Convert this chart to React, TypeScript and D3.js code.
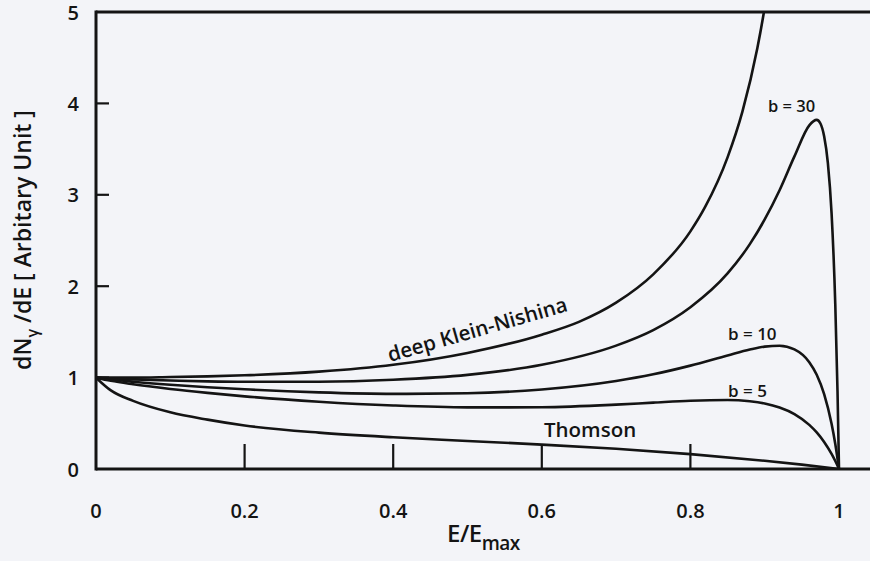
import React from "react";
import * as d3 from "d3";

// Photon energy fraction E/Emax sampled along each curve, with dN/dE values
const thomsonE = [0, 0.02, 0.05, 0.1, 0.15, 0.2, 0.3, 0.4, 0.5, 0.6, 0.7, 0.8, 0.9, 0.95, 1];
const thomsonV = [1, 0.86, 0.745, 0.62, 0.54, 0.476, 0.398, 0.347, 0.307, 0.267, 0.221, 0.163, 0.09, 0.048, 0];

const deepKNE = [0, 0.05, 0.1, 0.15, 0.2, 0.3, 0.4, 0.5, 0.6, 0.65, 0.7, 0.75, 0.8, 0.82, 0.85, 0.87, 0.89, 0.9, 0.91, 0.92];
const deepKNV = [1, 1.0, 1.006, 1.013, 1.025, 1.065, 1.14, 1.27, 1.47, 1.61, 1.82, 2.13, 2.6, 2.87, 3.41, 3.91, 4.6, 5.05, 5.6, 6.3];

const b30E = [0, 0.02, 0.05, 0.1, 0.15, 0.2, 0.3, 0.4, 0.5, 0.6, 0.7, 0.75, 0.8, 0.85, 0.88, 0.9, 0.92, 0.94, 0.96, 0.97, 0.975, 0.98, 0.985, 0.99, 0.995, 0.998, 1];
const b30V = [1, 0.991, 0.981, 0.969, 0.959, 0.954, 0.955, 0.977, 1.03, 1.14, 1.35, 1.52, 1.77, 2.14, 2.46, 2.73, 3.05, 3.42, 3.76, 3.82, 3.78, 3.64, 3.35, 2.8, 1.8, 0.85, 0];

const b10E = [0, 0.02, 0.05, 0.1, 0.15, 0.2, 0.3, 0.4, 0.5, 0.6, 0.7, 0.75, 0.8, 0.85, 0.88, 0.9, 0.92, 0.94, 0.96, 0.97, 0.98, 0.99, 0.995, 1];
const b10V = [1, 0.979, 0.955, 0.922, 0.895, 0.872, 0.838, 0.822, 0.829, 0.87, 0.963, 1.036, 1.131, 1.242, 1.307, 1.339, 1.348, 1.308, 1.168, 1.031, 0.819, 0.495, 0.274, 0];

const b5E = [0, 0.02, 0.05, 0.1, 0.15, 0.2, 0.3, 0.4, 0.5, 0.6, 0.7, 0.75, 0.8, 0.85, 0.88, 0.9, 0.92, 0.94, 0.96, 0.97, 0.98, 0.99, 0.995, 1];
const b5V = [1, 0.965, 0.927, 0.876, 0.833, 0.795, 0.736, 0.695, 0.674, 0.676, 0.704, 0.726, 0.747, 0.755, 0.741, 0.717, 0.673, 0.601, 0.483, 0.4, 0.296, 0.165, 0.087, 0];

const xTicks = [0, 0.2, 0.4, 0.6, 0.8, 1];
const xTickLabels = ["0", "0.2", "0.4", "0.6", "0.8", "1"];
const yTicks = [0, 1, 2, 3, 4, 5];

const W = 870;
const H = 561;
const left = 96;
const right = 839;
const top = 12;
const bottom = 469;
const ink = "#141414";
const font = "'Open Sans', 'Noto Sans', sans-serif";

export default function App() {
  const x = d3.scaleLinear().domain([0, 1]).range([left, right]);
  const y = d3.scaleLinear().domain([0, 5]).range([bottom, top]);

  const line = d3
    .line<[number, number]>()
    .x((d) => x(d[0]))
    .y((d) => y(d[1]))
    .curve(d3.curveMonotoneX);

  const series = [
    [thomsonE, thomsonV],
    [deepKNE, deepKNV],
    [b30E, b30V],
    [b10E, b10V],
    [b5E, b5V],
  ].map(([es, vs]) => line(es.map((e, i) => [e, vs[i]] as [number, number])) || "");

  return (
    <svg
      width={W}
      height={H}
      style={{ position: "absolute", left: 0, top: 0, background: "#f3f4f8" }}
      fontFamily={font}
    >
      <defs>
        <clipPath id="plotArea">
          <rect x={left} y={top} width={W - left} height={bottom - top} />
        </clipPath>
      </defs>

      <g clipPath="url(#plotArea)" fill="none" stroke={ink} strokeWidth={2.6} strokeLinejoin="round">
        {series.map((d, i) => (
          <path key={i} d={d} />
        ))}
      </g>

      {/* frame */}
      <g stroke={ink} strokeWidth={3} fill="none">
        <line x1={left} x2={W} y1={top} y2={top} />
        <line x1={left} x2={W} y1={bottom} y2={bottom} />
        <line x1={left} x2={left} y1={top - 1.5} y2={bottom + 1.5} />
      </g>

      {/* inner ticks */}
      <g stroke={ink} strokeWidth={2.2}>
        {yTicks.slice(1, -1).map((t) => (
          <line key={t} x1={left} x2={left + 13} y1={y(t)} y2={y(t)} />
        ))}
        {xTicks.slice(1, -1).map((t) => (
          <line key={t} x1={x(t)} x2={x(t)} y1={bottom} y2={bottom - 25} />
        ))}
      </g>

      {/* tick labels */}
      <g fill={ink} fontSize={20} fontWeight={600}>
        {yTicks.map((t) => (
          <text key={t} x={79} y={y(t)} textAnchor="end" dominantBaseline="central">
            {t}
          </text>
        ))}
        {xTicks.map((t, i) => (
          <text key={t} x={x(t)} y={510} textAnchor="middle" dominantBaseline="central">
            {xTickLabels[i]}
          </text>
        ))}
      </g>

      {/* axis titles */}
      <text x={447} y={542} fill={ink} fontSize={24} fontWeight={600} letterSpacing={-0.5}>
        E/E
        <tspan fontSize={19} dy={8}>max</tspan>
      </text>
      <text
        transform="translate(31,240) rotate(-90)"
        textAnchor="middle"
        fill={ink}
        fontSize={23}
        fontWeight={600}
      >
        dN
        <tspan fontSize={16} dy={7}>γ</tspan>
        <tspan dy={-7}> /dE [ Arbitary Unit ]</tspan>
      </text>

      {/* curve labels */}
      <g fill={ink} fontWeight={600}>
        <text x={390} y={362} fontSize={20.5} transform="rotate(-16 390 362)">
          deep Klein-Nishina
        </text>
        <text x={544} y={437} fontSize={20.5}>Thomson</text>
        <text x={728} y={340} fontSize={17}>b = 10</text>
        <text x={728} y={397} fontSize={17}>b = 5</text>
        <text x={768} y={112} fontSize={16.5}>b = 30</text>
      </g>
    </svg>
  );
}
